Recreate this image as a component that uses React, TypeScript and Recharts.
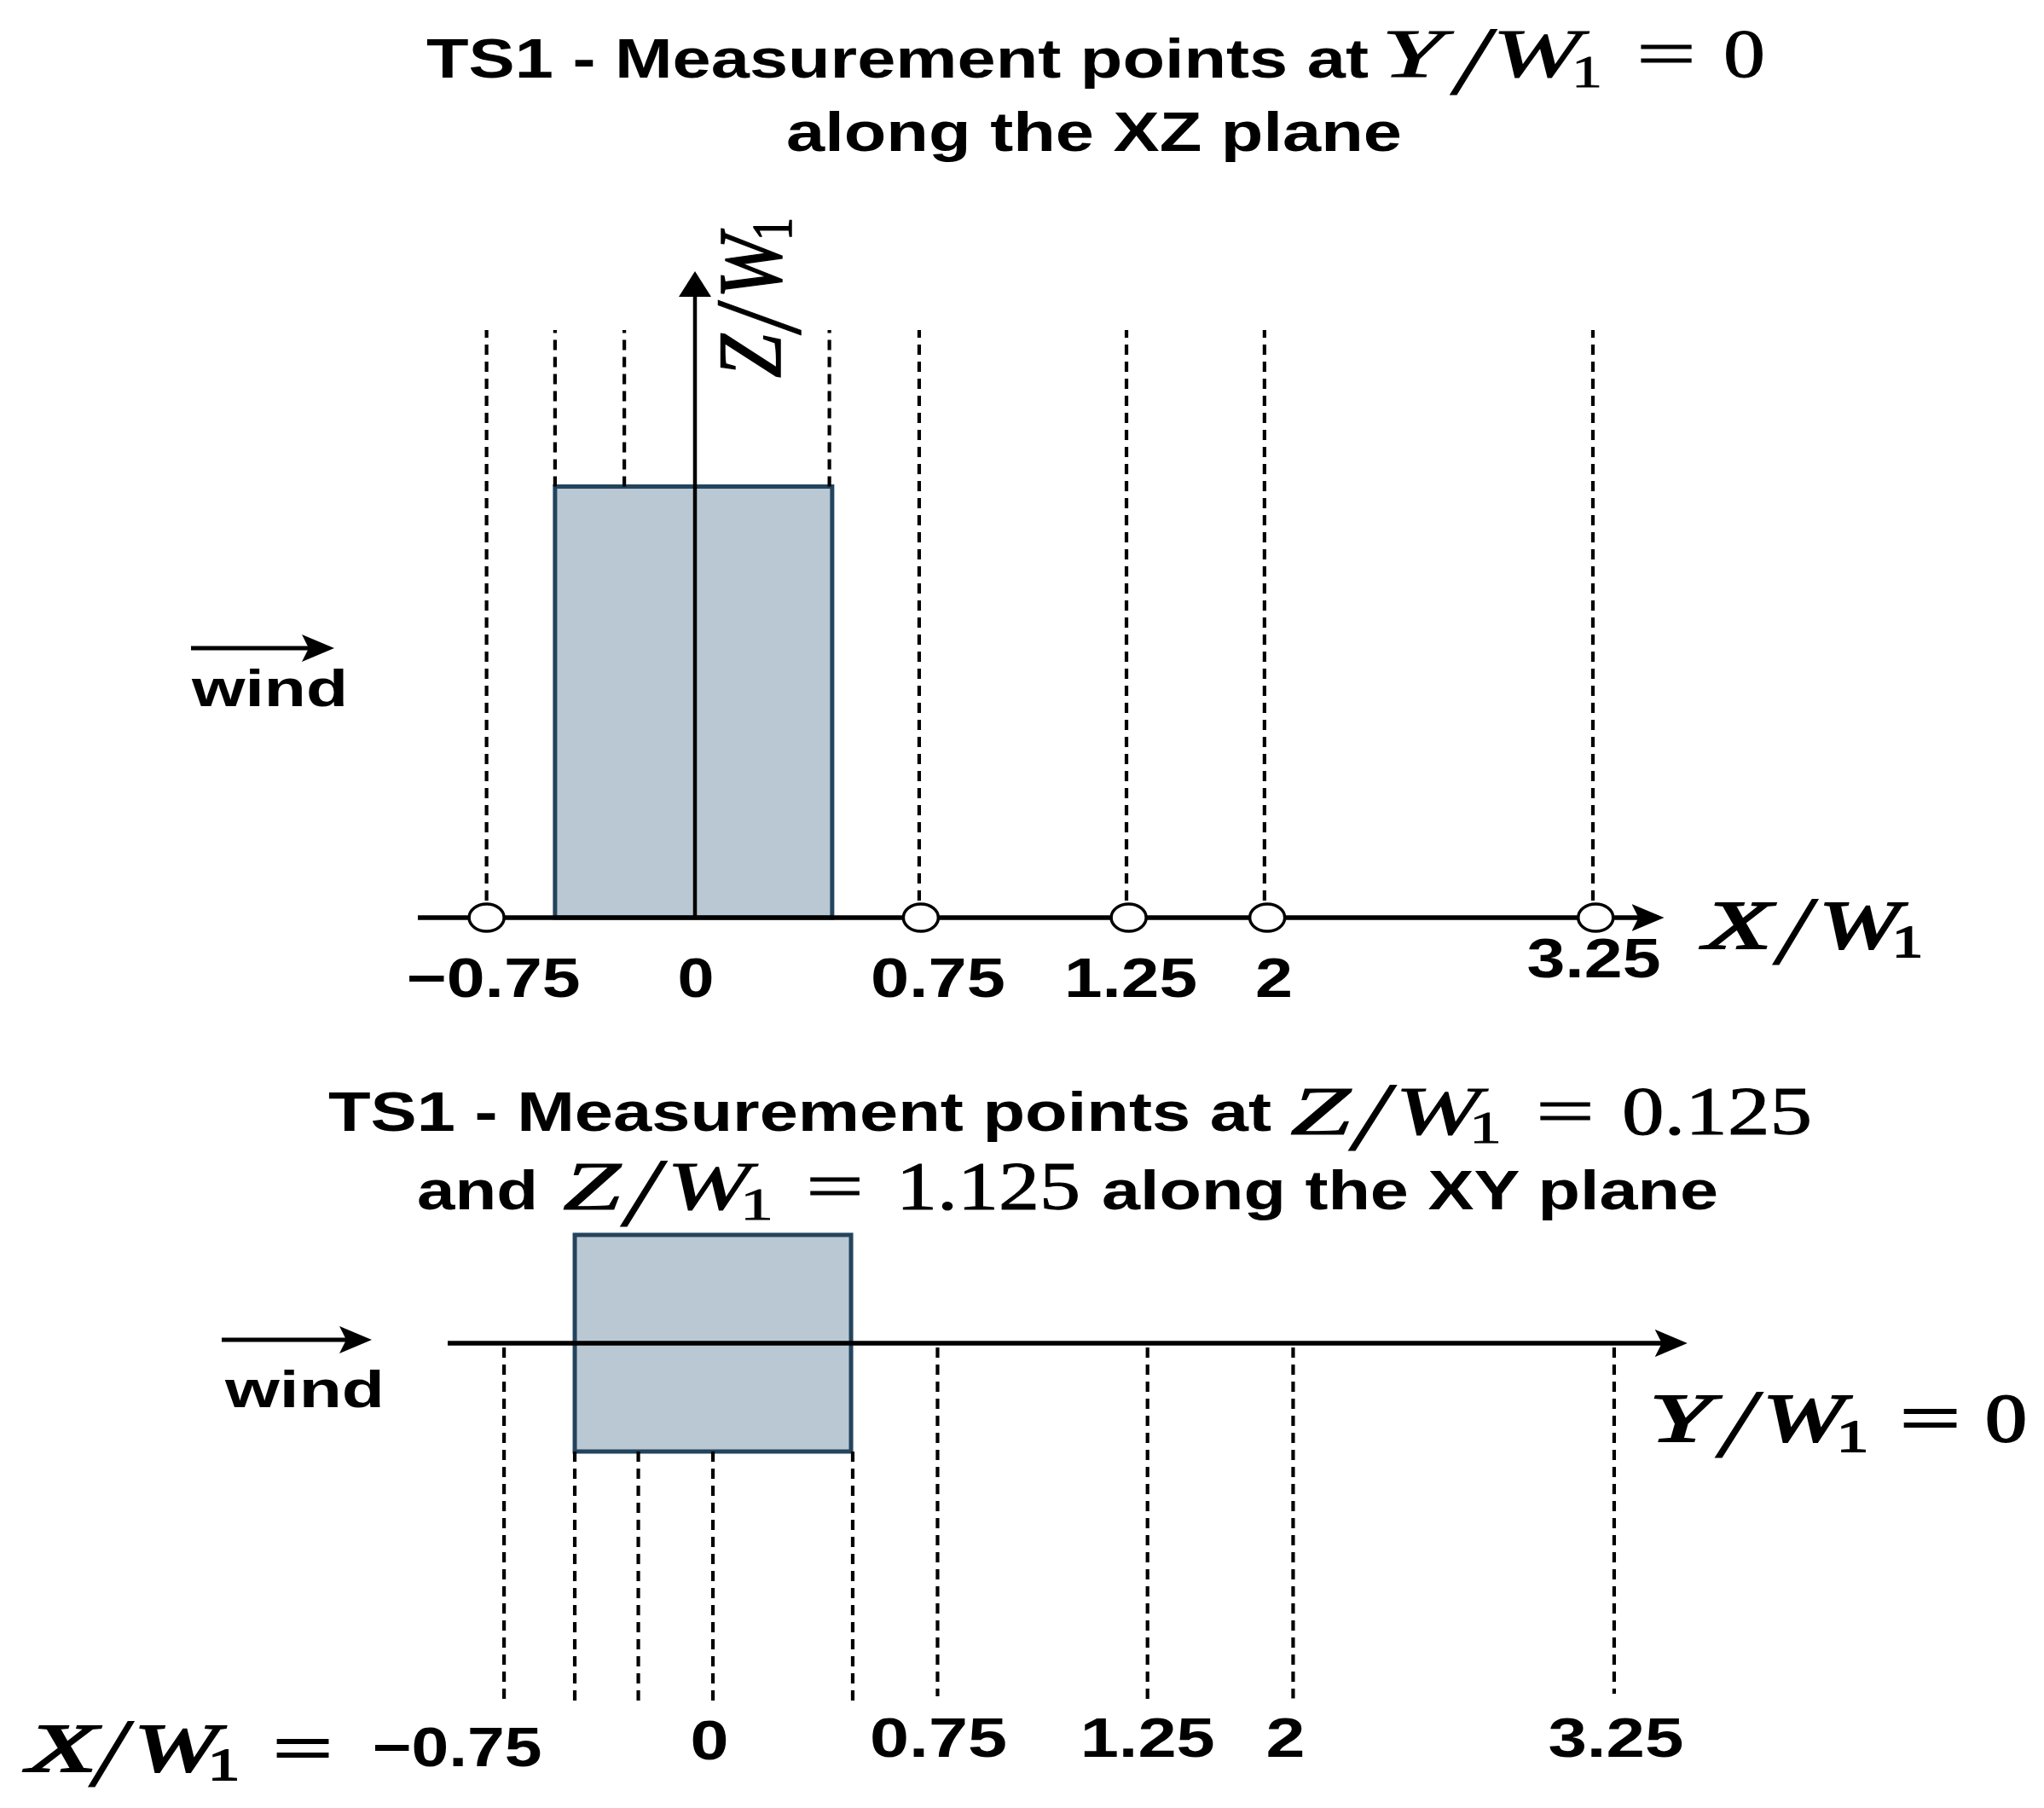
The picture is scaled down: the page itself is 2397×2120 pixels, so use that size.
import React from 'react';
import {
  ComposedChart,
  Scatter,
  XAxis,
  YAxis,
  ReferenceArea,
  ReferenceLine,
} from 'recharts';

// XZ plane: stations are where the dashed lines are drawn, the sketch is not to scale
const xzStations = [-0.752, -0.505, -0.255, 0.485, 0.809, 1.557, 2.055, 3.24];
const xzLineFrom = [0, 1, 1, 1, 0, 0, 0, 0];
const xzLineTo = 1.363;
const xzPoints = [-0.752, 0.815, 1.565, 2.065, 3.25];
const xzTicks = [-0.752, 0, 0.809, 1.557, 2.055, 3.24];
const xzTickLabels = ['\u22120.75', '0', '0.75', '1.25', '2', '3.25'];

// XY plane
const xyStations = [-0.756, -0.5, -0.27, 0, 0.506, 0.813, 1.573, 2.1, 3.262];
const xyLineFrom = [-0.02, -0.5, -0.5, -0.5, -0.5, -0.02, -0.02, -0.02, -0.02];
const xyLineTo = [-1.665, -1.657, -1.657, -1.657, -1.657, -1.63, -1.654, -1.64, -1.618];
const xyTicks = [-0.756, 0, 0.813, 1.573, 2.1, 3.262];
const xyTickLabels = ['\u22120.75', '0', '0.75', '1.25', '2', '3.25'];

const SANS = '"Liberation Sans", Arial, sans-serif';
const SERIF = '"Liberation Serif", "Times New Roman", serif';
const FILL = '#bac8d3';
const EDGE = '#23445d';

// tick label placement: shift from the tick, width, baseline inside its chart
const xzTickBox = [[8, 199, 1169], [1, 38, 1169], [22, 153, 1169], [5, 151, 1169], [11, 39, 1169], [1, 152, 1146]];
const xyTickBox = [[-55, 194, 831], [-4, 40, 823], [1, 156, 820], [0, 153, 820], [-9, 41, 820], [2, 154, 820]];

function Stretched({ x, y, w, size, children, font = SANS, weight = 'bold', italic = false, transform, ink = 0 }: any) {
  return (
    <text
      x={x}
      y={y}
      textLength={w}
      lengthAdjust="spacingAndGlyphs"
      fontSize={size}
      fontFamily={font}
      fontWeight={weight}
      fontStyle={italic ? 'italic' : 'normal'}
      fill="#000"
      stroke={ink ? '#000' : 'none'}
      strokeWidth={ink}
      transform={transform}
    >
      {children}
    </text>
  );
}

// a ratio like Y/W1, every piece squeezed into the box measured on the picture
function Ratio({ letter, at, baseline, slashEnd, subBase, ink = 1 }: any) {
  const [a0, a1, s0, s1, w0, w1, u0, u1] = at;
  return (
    <g>
      <Stretched x={a0} y={baseline} w={a1 - a0} size={80} font={SERIF} weight="normal" italic ink={ink}>{letter}</Stretched>
      <Stretched x={s0} y={slashEnd} w={s1 - s0} size={115} font={SERIF} weight="normal" italic ink={1}>/</Stretched>
      <Stretched x={w0} y={baseline} w={w1 - w0} size={80} font={SERIF} weight="normal" italic ink={ink}>W</Stretched>
      <Stretched x={u0 - 6} y={subBase} w={u1 - u0 + 12} size={53} font={SERIF} weight="normal" ink={ink}>1</Stretched>
    </g>
  );
}

function MathText({ x, y, w, children, ink = 1 }: any) {
  return <Stretched x={x} y={y} w={w} size={80} font={SERIF} weight="normal" ink={ink}>{children}</Stretched>;
}

const makeTick = (ticks: number[], labels: string[], boxes: number[][]) => (props: any) => {
  const i = ticks.indexOf(props.payload.value);
  if (i < 0) return <g />;
  const [dx, w, base] = boxes[i];
  return (
    <Stretched x={props.x + dx - (w + 5) / 2} y={base} w={w + 5} size={64}>
      {labels[i]}
    </Stretched>
  );
};

const PointMark = (props: any) => (
  <ellipse cx={props.cx} cy={props.cy} rx={20.5} ry={16} fill="#fff" stroke="#000" strokeWidth={3.5} />
);

export default function App() {
  return (
    <div style={{ position: 'absolute', left: 0, top: 0, width: 2397, height: 2120, background: '#fff', overflow: 'hidden' }}>
      <div style={{ position: 'absolute', left: 0, top: 0 }}>
        <ComposedChart
          width={2397}
          height={1240}
          margin={{ top: 330, right: 457.5, left: 490, bottom: 64 }}
        >
          <XAxis
            type="number"
            dataKey="x"
            domain={[-1, 3.46]}
            ticks={xzTicks}
            interval={0}
            height={100}
            tickLine={false}
            axisLine={{ stroke: '#000', strokeWidth: 5.5, markerEnd: 'url(#headWide)' }}
            tick={makeTick(xzTicks, xzTickLabels, xzTickBox)}
          />
          <YAxis type="number" dataKey="z" domain={[0, 1.476]} hide />
          {xzStations.map((s, i) => (
            <ReferenceLine
              key={s}
              segment={[{ x: s, y: xzLineFrom[i] }, { x: s, y: xzLineTo }]}
              stroke="#000"
              strokeWidth={4.2}
              strokeDasharray="12 8"
            />
          ))}
          <ReferenceArea x1={-0.505} x2={0.495} y1={0} y2={1} fill={FILL} fillOpacity={1} stroke={EDGE} strokeWidth={5} />
          <ReferenceLine
            segment={[{ x: 0, y: 0 }, { x: 0, y: 1.476 }]}
            stroke="#000"
            strokeWidth={4.5}
            markerEnd="url(#headFlat)"
          />
          <Scatter
            data={xzPoints.map((x) => ({ x, z: 0 }))}
            dataKey="z"
            shape={PointMark}
            isAnimationActive={false}
          />
        </ComposedChart>
      </div>

      <div style={{ position: 'absolute', left: 0, top: 1240 }}>
        <ComposedChart
          width={2397}
          height={880}
          margin={{ top: 208, right: 430.2, left: 525, bottom: 53.2 }}
        >
          <XAxis
            type="number"
            dataKey="x"
            domain={[-0.96, 3.49]}
            ticks={xyTicks}
            interval={0}
            height={60}
            tickLine={false}
            axisLine={false}
            tick={makeTick(xyTicks, xyTickLabels, xyTickBox)}
          />
          <YAxis type="number" dataKey="y" domain={[-1.7, 0.5]} hide />
          {xyStations.map((s, i) => (
            <ReferenceLine
              key={s}
              segment={[{ x: s, y: xyLineFrom[i] }, { x: s, y: xyLineTo[i] }]}
              stroke="#000"
              strokeWidth={4.2}
              strokeDasharray="12 8"
            />
          ))}
          <ReferenceArea x1={-0.5} x2={0.5} y1={-0.5} y2={0.5} fill={FILL} fillOpacity={1} stroke={EDGE} strokeWidth={5} />
          <ReferenceLine
            segment={[{ x: -0.96, y: 0 }, { x: 3.49, y: 0 }]}
            stroke="#000"
            strokeWidth={5.5}
            markerEnd="url(#headWide)"
          />
          {/* this panel shows no point marks, the series only keeps the axes alive */}
          <Scatter
            data={xyStations.map((x) => ({ x, y: 0 }))}
            dataKey="y"
            shape={() => <g />}
            isAnimationActive={false}
          />
        </ComposedChart>
      </div>

      <svg width={2397} height={2120} style={{ position: 'absolute', left: 0, top: 0, pointerEvents: 'none' }}>
        <defs>
          <marker id="headWide" markerUnits="userSpaceOnUse" markerWidth={40} markerHeight={34} refX={26} refY={16} orient="auto">
            <path d="M0 0 L38 16 L0 32 L8 16 Z" fill="#000" />
          </marker>
          <marker id="headFlat" markerUnits="userSpaceOnUse" markerWidth={32} markerHeight={40} refX={18} refY={19} orient="auto">
            <path d="M0 0 L30 19 L0 38 Z" fill="#000" />
          </marker>
        </defs>

        {/* top title */}
        <Stretched x={500} y={91} w={1105} size={65}>TS1 - Measurement points at</Stretched>
        <Ratio letter="Y" at={[1620, 1693, 1707, 1745, 1750, 1854, 1849, 1873]} baseline={90} slashEnd={110} subBase={102} />
        <MathText x={1919} y={90} w={70}>=</MathText>
        <MathText x={2021} y={90} w={49}>0</MathText>
        <Stretched x={922} y={177} w={722} size={65}>along the XZ plane</Stretched>

        {/* top panel axis names */}
        <Ratio letter="X" at={[1998, 2078, 2085, 2122, 2133, 2228, 2225, 2249]} baseline={1112} slashEnd={1130} subBase={1122} ink={2} />
        <Stretched y={0} x={0} w={51} size={106} font={SERIF} weight="normal" italic ink={1.5} transform="translate(915 443) rotate(-90)">Z</Stretched>
        <Stretched y={0} x={0} w={28} size={145} font={SERIF} weight="normal" italic ink={1.5} transform="translate(938 388) rotate(-90)">/</Stretched>
        <Stretched y={0} x={0} w={75} size={106} font={SERIF} weight="normal" italic ink={1.5} transform="translate(915 350) rotate(-90)">W</Stretched>
        <Stretched y={0} x={0} w={27} size={68} font={SERIF} weight="normal" ink={1.5} transform="translate(928 282) rotate(-90)">1</Stretched>

        {/* wind, top */}
        <line x1={224} y1={760} x2={380} y2={760} stroke="#000" strokeWidth={5} markerEnd="url(#headWide)" />
        <Stretched x={225} y={828} w={183} size={62}>wind</Stretched>

        {/* bottom title */}
        <Stretched x={385} y={1326} w={1106} size={65}>TS1 - Measurement points at</Stretched>
        <Ratio letter="Z" at={[1513, 1584, 1588, 1627, 1636, 1736, 1729, 1755]} baseline={1330} slashEnd={1348} subBase={1340} />
        <MathText x={1801} y={1330} w={69}>=</MathText>
        <MathText x={1902} y={1330} w={223}>0.125</MathText>
        <Stretched x={489} y={1418} w={142} size={65}>and</Stretched>
        <Ratio letter="Z" at={[660, 728, 734, 772, 782, 880, 874, 901]} baseline={1418} slashEnd={1437} subBase={1430} />
        <MathText x={945} y={1418} w={68}>=</MathText>
        <MathText x={1051} y={1418} w={216}>1.125</MathText>
        <Stretched x={1292} y={1418} w={723} size={65}>along the XY plane</Stretched>

        {/* wind, bottom */}
        <line x1={260} y1={1571} x2={424} y2={1571} stroke="#000" strokeWidth={5} markerEnd="url(#headWide)" />
        <Stretched x={264} y={1650} w={187} size={62}>wind</Stretched>

        {/* bottom panel axis names */}
        <Ratio letter="Y" at={[1934, 2007, 2018, 2057, 2067, 2163, 2160, 2185]} baseline={1690} slashEnd={1708} subBase={1702} ink={2} />
        <MathText x={2228} y={1690} w={71} ink={2}>=</MathText>
        <MathText x={2328} y={1690} w={49} ink={2}>0</MathText>
        <Ratio letter="X" at={[32, 114, 110, 147, 157, 256, 250, 275]} baseline={2077} slashEnd={2094} subBase={2087} ink={2} />
        <MathText x={320} y={2077} w={70} ink={2}>=</MathText>
      </svg>
    </div>
  );
}
